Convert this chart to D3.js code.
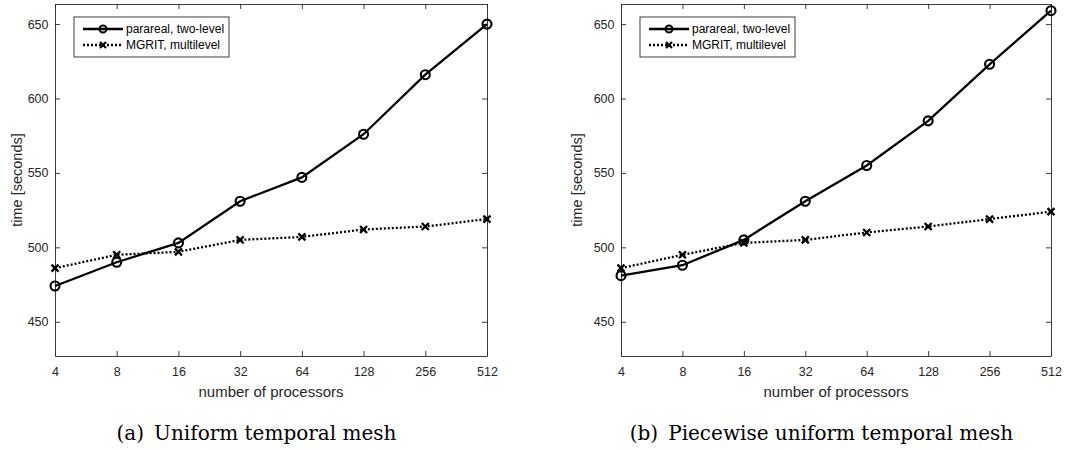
<!DOCTYPE html>
<html>
<head>
  <meta charset="UTF-8">
  <style>
    body { margin: 0; background: #fff; }
    svg { display: block; }
    .tick text { font-family: "Liberation Sans", Arial, sans-serif; font-size: 12.5px; fill: #262626; }
  </style>
</head>
<body>
<svg></svg>
<script src="https://d3js.org/d3.v7.min.js"></script>
<script>

let width = 1083, height = 450;

// processor counts (log2 axis)
const procs = [4, 8, 16, 32, 64, 128, 256, 512];
const yTicks = [450, 500, 550, 600, 650];

// (a) uniform temporal mesh
const pararealA = [474, 490, 503, 531, 547, 576, 616, 650];
const mgritA    = [486, 495, 497, 505, 507, 512, 514, 519];

// (b) piecewise uniform temporal mesh
const pararealB = [481, 488, 505, 531, 555, 585, 623, 659];
const mgritB    = [486, 495, 503, 505, 510, 514, 519, 524];

const seriesNames = ["parareal, two-level", "MGRIT, multilevel"];
const captions = ["(a)\u2002Uniform temporal mesh", "(b)\u2002Piecewise uniform temporal mesh"];

let svg = d3.select("svg")
    .attr("width", width)
    .attr("height", height);

const axisColor = "#262626";
const sans = "Liberation Sans, Arial, sans-serif";

function drawPanel(left, right, ylabelX, parareal, mgrit, caption) {
    let top = 4, bottom = 356;

    let x = d3.scaleLog().base(2).domain([4, 512]).range([left, right]);
    let y = d3.scaleLinear().domain([427, 663.5]).range([bottom, top]);

    let g = svg.append("g");

    // axes, ticks pointing inward like matlab
    g.append("g")
        .attr("transform", "translate(0," + bottom + ")")
        .call(d3.axisBottom(x).tickValues(procs).tickFormat(d3.format("d")).tickSizeInner(-5).tickSizeOuter(0).tickPadding(11.5));
    g.append("g")
        .attr("transform", "translate(0," + top + ")")
        .call(d3.axisTop(x).tickValues(procs).tickFormat("").tickSizeInner(-5).tickSizeOuter(0));
    g.append("g")
        .attr("transform", "translate(" + left + ",0)")
        .call(d3.axisLeft(y).tickValues(yTicks).tickSizeInner(-5).tickSizeOuter(0).tickPadding(6.5));
    g.append("g")
        .attr("transform", "translate(" + right + ",0)")
        .call(d3.axisRight(y).tickValues(yTicks).tickFormat("").tickSizeInner(-5).tickSizeOuter(0));

    g.selectAll(".domain, .tick line").attr("stroke", axisColor).attr("stroke-width", 0.9);

    // axis titles
    g.append("text")
        .attr("x", (left + right) / 2)
        .attr("y", 397)
        .attr("text-anchor", "middle")
        .attr("font-family", sans)
        .attr("font-size", 15)
        .attr("fill", axisColor)
        .text("number of processors");

    g.append("text")
        .attr("transform", "translate(" + ylabelX + "," + ((top + bottom) / 2) + ") rotate(-90)")
        .attr("text-anchor", "middle")
        .attr("dy", "0.35em")
        .attr("font-family", sans)
        .attr("font-size", 14.5)
        .attr("fill", axisColor)
        .text("time [seconds]");

    let line = d3.line()
        .x((d, i) => x(procs[i]))
        .y(d => y(d));

    // MGRIT dotted line + x markers
    g.append("path")
        .datum(mgrit)
        .attr("fill", "none")
        .attr("stroke", "black")
        .attr("stroke-width", 2.3)
        .attr("stroke-dasharray", "2,2")
        .attr("d", line);

    g.selectAll(".xm")
        .data(mgrit)
        .enter()
        .append("path")
        .attr("class", "xm")
        .attr("transform", (d, i) => "translate(" + x(procs[i]) + "," + y(d) + ")")
        .attr("d", "M-3.5,-3.5L3.5,3.5M-3.5,3.5L3.5,-3.5")
        .attr("stroke", "black")
        .attr("stroke-width", 2.3);

    // parareal solid line + circle markers
    g.append("path")
        .datum(parareal)
        .attr("fill", "none")
        .attr("stroke", "black")
        .attr("stroke-width", 2.3)
        .attr("d", line);

    g.selectAll(".om")
        .data(parareal)
        .enter()
        .append("circle")
        .attr("class", "om")
        .attr("cx", (d, i) => x(procs[i]))
        .attr("cy", d => y(d))
        .attr("r", 4.5)
        .attr("fill", "none")
        .attr("stroke", "black")
        .attr("stroke-width", 2.1);

    // legend
    let lx = left + 19, ly = 17;
    let legend = g.append("g").attr("transform", "translate(" + lx + "," + ly + ")");
    legend.append("rect")
        .attr("width", 155)
        .attr("height", 40)
        .attr("fill", "white")
        .attr("stroke", axisColor)
        .attr("stroke-width", 0.9);

    seriesNames.forEach((name, i) => {
        let yy = 12 + i * 16;
        let item = legend.append("g");
        item.append("line")
            .attr("x1", 9).attr("x2", 49)
            .attr("y1", yy).attr("y2", yy)
            .attr("stroke", "black")
            .attr("stroke-width", 2.4)
            .attr("stroke-dasharray", i == 0 ? null : "2,2");
        if (i == 0) {
            item.append("circle")
                .attr("cx", 29).attr("cy", yy).attr("r", 3.5)
                .attr("fill", "none").attr("stroke", "black").attr("stroke-width", 2);
        } else {
            item.append("path")
                .attr("transform", "translate(29," + yy + ")")
                .attr("d", "M-3,-3L3,3M-3,3L3,-3")
                .attr("stroke", "black").attr("stroke-width", 2.2);
        }
        item.append("text")
            .attr("x", 52)
            .attr("y", yy + 4.3)
            .attr("font-family", sans)
            .attr("font-size", 12)
            .attr("fill", "black")
            .text(name);
    });

    // caption below the panel
    g.append("text")
        .attr("x", (left + right) / 2 - 14.5)
        .attr("y", 440)
        .attr("text-anchor", "middle")
        .attr("font-family", "DejaVu Serif, serif")
        .attr("font-size", 20)
        .attr("fill", "black")
        .text(caption);
}

drawPanel(55, 487, 17, pararealA, mgritA, captions[0]);
drawPanel(621, 1051, 577, pararealB, mgritB, captions[1]);

</script>
</body>
</html>
